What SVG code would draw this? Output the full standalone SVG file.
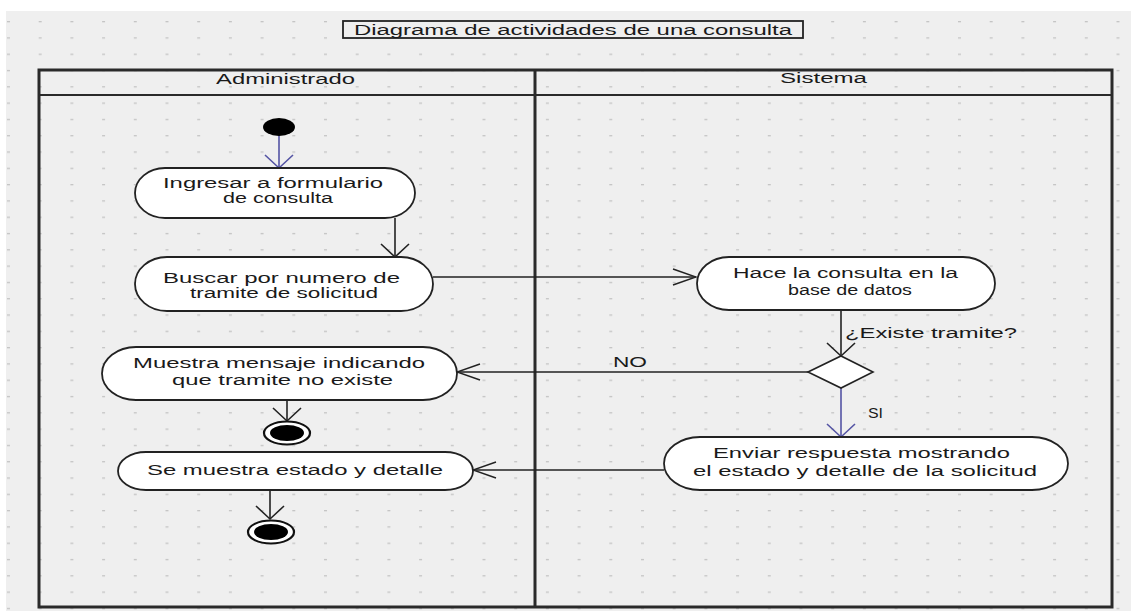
<svg xmlns="http://www.w3.org/2000/svg" width="1131" height="611" viewBox="0 0 1131 611">
  <defs>
    <pattern id="grid" x="7" y="21" width="31.7" height="16.3" patternUnits="userSpaceOnUse">
      <rect x="0" y="0" width="3" height="1.3" fill="#c4c4c4"/>
    </pattern>
    <!-- open arrowheads: vertical flows get wide wings, horizontal flows long narrow wings -->
    <marker id="v-black" viewBox="-16 -16 18 32" refX="0" refY="0" markerWidth="18" markerHeight="32" markerUnits="userSpaceOnUse" orient="auto">
      <path d="M-13,-14 L0,0 L-13,14" fill="none" stroke="#222" stroke-width="1.6"/>
    </marker>
    <marker id="v-blue" viewBox="-16 -16 18 32" refX="0" refY="0" markerWidth="18" markerHeight="32" markerUnits="userSpaceOnUse" orient="auto">
      <path d="M-13,-14 L0,0 L-13,14" fill="none" stroke="#5454a4" stroke-width="1.6"/>
    </marker>
    <marker id="h-black" viewBox="-26 -10 28 20" refX="0" refY="0" markerWidth="28" markerHeight="20" markerUnits="userSpaceOnUse" orient="auto">
      <path d="M-23,-8 L0,0 L-23,8" fill="none" stroke="#222" stroke-width="1.5"/>
    </marker>
  </defs>
  <style>
    .txt { font-family: "Liberation Sans", Arial, sans-serif; font-size: 14px; fill: #1a1a1a; }
    .act { fill: #ffffff; stroke: #222; stroke-width: 1.8; }
    .flow-v { fill: none; stroke: #222; stroke-width: 1.6; marker-end: url(#v-black); }
    .flow-vb { fill: none; stroke: #5454a4; stroke-width: 1.6; marker-end: url(#v-blue); }
    .flow-h { fill: none; stroke: #222; stroke-width: 1.5; marker-end: url(#h-black); }
    .lane { fill: none; stroke: #2a2a2a; }
  </style>

  <!-- canvas -->
  <rect x="0" y="0" width="1131" height="611" fill="#ffffff"/>
  <rect x="6" y="11" width="1125" height="600" fill="#efefef"/>
  <rect x="6" y="11" width="1125" height="600" fill="url(#grid)"/>

  <!-- title -->
  <g id="title">
    <rect x="343" y="21" width="460" height="17" fill="#efefef" stroke="#222" stroke-width="1.8"/>
    <text class="txt" x="354" y="35" textLength="438" lengthAdjust="spacingAndGlyphs">Diagrama de actividades de una consulta</text>
  </g>

  <!-- swimlanes -->
  <g id="lanes">
    <rect class="lane" x="39" y="70" width="1073" height="537" stroke-width="3"/>
    <line class="lane" x1="39" y1="95" x2="1111" y2="95" stroke-width="2"/>
    <line class="lane" x1="535" y1="70" x2="535" y2="607" stroke-width="3"/>
    <text class="txt" x="216" y="84" textLength="139" lengthAdjust="spacingAndGlyphs">Administrado</text>
    <text class="txt" x="780" y="83" textLength="87" lengthAdjust="spacingAndGlyphs">Sistema</text>
  </g>

  <!-- connectors -->
  <g id="connectors">
    <line class="flow-vb" x1="279" y1="135" x2="279" y2="168"/>
    <line class="flow-v" x1="395" y1="218" x2="395" y2="257"/>
    <line class="flow-h" x1="433" y1="277" x2="696" y2="277"/>
    <line class="flow-v" x1="841" y1="310" x2="841" y2="356"/>
    <text class="txt" x="845" y="338" textLength="172" lengthAdjust="spacingAndGlyphs">¿Existe tramite?</text>
    <line class="flow-h" x1="808" y1="372" x2="457" y2="372"/>
    <text class="txt" x="613" y="367" textLength="34" lengthAdjust="spacingAndGlyphs">NO</text>
    <line class="flow-vb" x1="841" y1="388" x2="841" y2="437"/>
    <text class="txt" x="868" y="418" textLength="15" lengthAdjust="spacingAndGlyphs">SI</text>
    <line class="flow-h" x1="664" y1="470" x2="473" y2="470"/>
    <line class="flow-v" x1="287" y1="400" x2="287" y2="421"/>
    <line class="flow-v" x1="270" y1="490" x2="270" y2="519"/>
  </g>

  <!-- initial node -->
  <g id="start">
    <ellipse cx="279" cy="127" rx="16" ry="9" fill="#000"/>
  </g>

  <g id="act-ingresar">
    <rect class="act" x="135" y="168" width="280" height="50" rx="30" ry="25"/>
    <text class="txt" x="163" y="188" textLength="220" lengthAdjust="spacingAndGlyphs">Ingresar a formulario</text>
    <text class="txt" x="223" y="203" textLength="110" lengthAdjust="spacingAndGlyphs">de consulta</text>
  </g>

  <g id="act-buscar">
    <rect class="act" x="135" y="257" width="298" height="54" rx="32" ry="27"/>
    <text class="txt" x="163" y="283" textLength="237" lengthAdjust="spacingAndGlyphs">Buscar por numero de</text>
    <text class="txt" x="190" y="298" textLength="188" lengthAdjust="spacingAndGlyphs">tramite de solicitud</text>
  </g>

  <g id="act-consulta">
    <rect class="act" x="697" y="257" width="298" height="53" rx="32" ry="26.5"/>
    <text class="txt" x="733" y="278" textLength="225" lengthAdjust="spacingAndGlyphs">Hace la consulta en la</text>
    <text class="txt" x="788" y="295" textLength="124" lengthAdjust="spacingAndGlyphs">base de datos</text>
  </g>

  <g id="decision">
    <polygon points="808,372 841,356 873,372 841,388" fill="#ffffff" stroke="#222" stroke-width="1.6"/>
  </g>

  <g id="act-mensaje">
    <rect class="act" x="102" y="347" width="355" height="53" rx="34" ry="26.5"/>
    <text class="txt" x="133" y="368" textLength="292" lengthAdjust="spacingAndGlyphs">Muestra mensaje indicando</text>
    <text class="txt" x="172" y="385" textLength="221" lengthAdjust="spacingAndGlyphs">que tramite no existe</text>
  </g>

  <g id="end-1">
    <ellipse cx="287" cy="433" rx="23" ry="11.5" fill="#ffffff" stroke="#111" stroke-width="2.2"/>
    <ellipse cx="287" cy="433" rx="17" ry="8" fill="#000"/>
  </g>

  <g id="act-estado">
    <rect class="act" x="118" y="452" width="355" height="38" rx="28" ry="19"/>
    <text class="txt" x="147" y="475" textLength="296" lengthAdjust="spacingAndGlyphs">Se muestra estado y detalle</text>
  </g>

  <g id="act-enviar">
    <rect class="act" x="664" y="437" width="404" height="53" rx="36" ry="26.5"/>
    <text class="txt" x="713" y="458" textLength="297" lengthAdjust="spacingAndGlyphs">Enviar respuesta mostrando</text>
    <text class="txt" x="693" y="476" textLength="344" lengthAdjust="spacingAndGlyphs">el estado y detalle de la solicitud</text>
  </g>

  <g id="end-2">
    <ellipse cx="271" cy="532" rx="23" ry="11.5" fill="#ffffff" stroke="#111" stroke-width="2.2"/>
    <ellipse cx="271" cy="532" rx="17" ry="8" fill="#000"/>
  </g>
</svg>
